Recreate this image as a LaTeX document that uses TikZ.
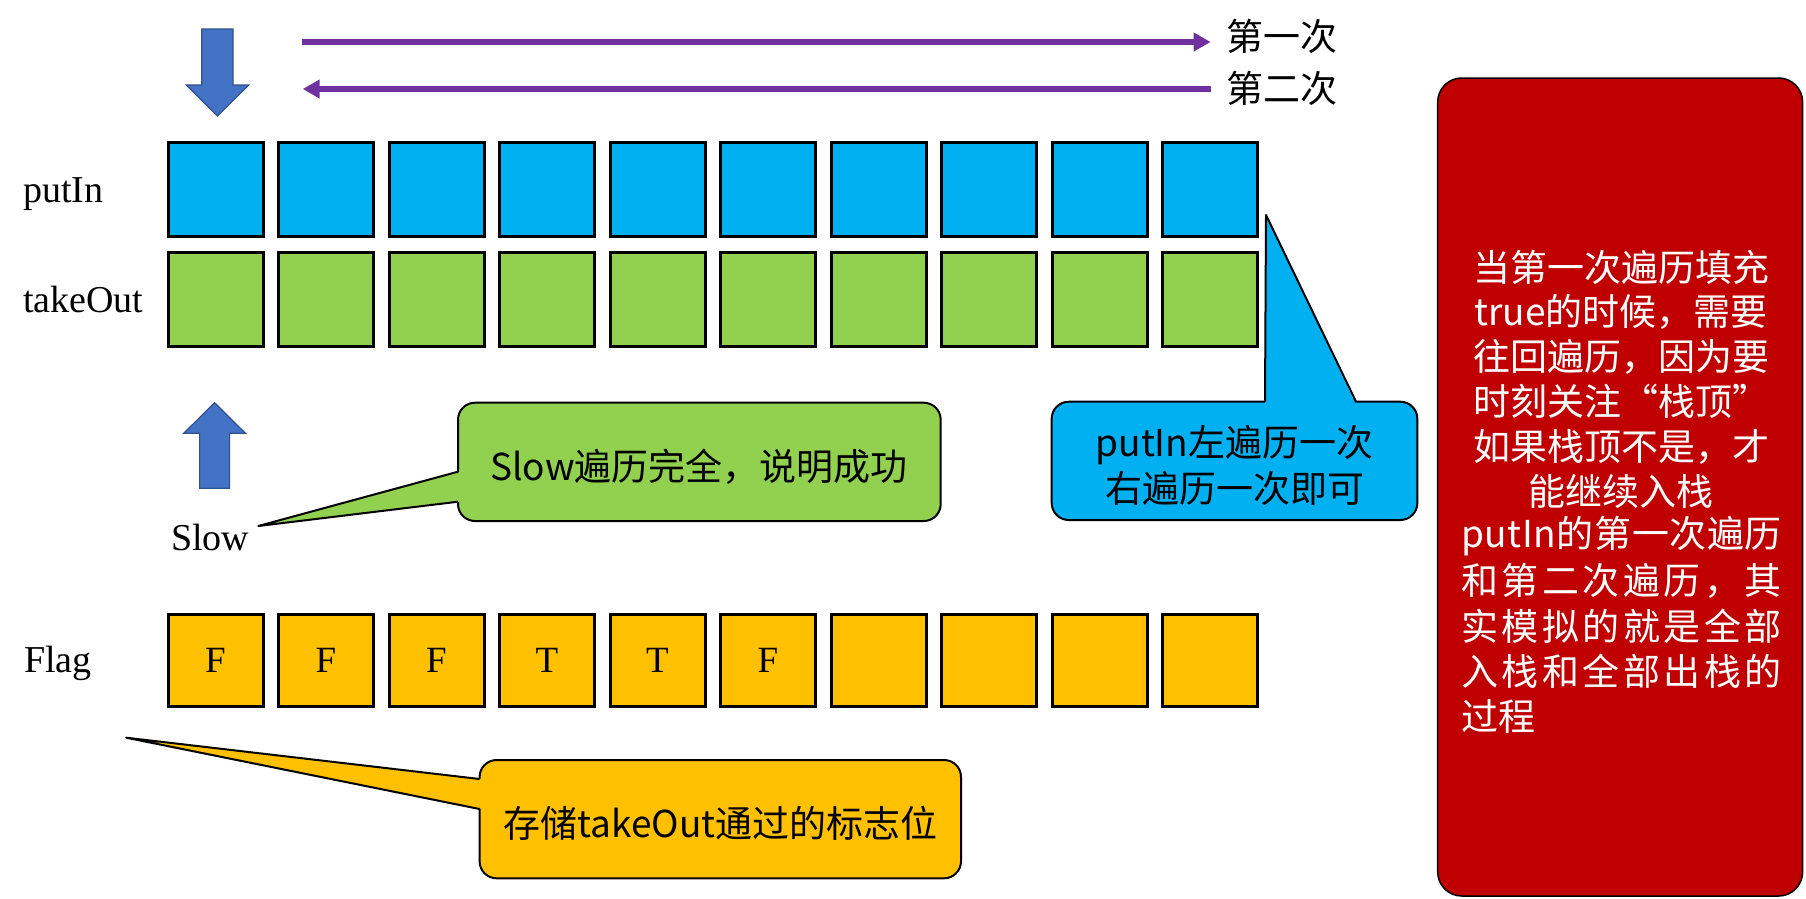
\documentclass[tikz,border=0pt]{standalone}
\usepackage{fontspec}
\setmainfont{Liberation Serif}
\newfontfamily\cjk{Noto Sans CJK SC}
\usetikzlibrary{arrows.meta}
\definecolor{cellblue}{HTML}{00B0F0}
\definecolor{cellgreen}{HTML}{92D050}
\definecolor{cellyellow}{HTML}{FFC000}
\definecolor{boxred}{HTML}{C00000}
\definecolor{arrowpurple}{HTML}{7030A0}
\definecolor{blockblue}{HTML}{4472C4}
\definecolor{blockedge}{HTML}{2F528F}
\tikzset{
  cellbox/.style={draw=black, line width=3pt, minimum width=95pt, minimum height=94.6pt, inner sep=0pt, font=\fontsize{37}{40}\selectfont},
  rowlabel/.style={inner sep=0pt, anchor=base west, font=\fontsize{38}{44}\selectfont},
  cjktext/.style={inner sep=0pt, font=\cjk\fontsize{37}{44}\selectfont},
  notetext/.style={cjktext, text=white},
  calloutbox/.style={draw=black, line width=2pt, rounded corners=17pt, inner sep=0pt},
  pointerline/.style={draw=black, line width=2pt, line join=round},
  blockarrow/.style={fill=blockblue, draw=blockedge, line width=1.2pt},
  passarrow/.style={draw=arrowpurple, line width=6pt, -{Triangle[length=17pt,width=18pt]}},
}
\begin{document}
\begin{tikzpicture}[x=1pt,y=-1pt]
\useasboundingbox (0,0) rectangle (1806,898);

% cell rows
\foreach \i in {0,...,9} {
  \node[cellbox, fill=cellblue] (p\i) at ({215.5+110.5*\i},189.5) {};
  \node[cellbox, fill=cellgreen] (t\i) at ({215.5+110.5*\i},299.5) {};
}
\foreach \i/\v in {0/F,1/F,2/F,3/T,4/T,5/F,6/,7/,8/,9/} {
  \node[cellbox, fill=cellyellow, minimum height=92.5pt] (f\i) at ({215.5+110.5*\i},660.5) {\v};
}

% row labels
\node[rowlabel] (lput) at (23,202.7) {putIn};
\node[rowlabel] (ltake) at (23,312.3) {takeOut};
\node[rowlabel] (lflag) at (24,672.7) {Flag};
\node[rowlabel] (lslow) at (171,550) {Slow};

% block arrows
\draw[blockarrow] (201.8,29) -- (233,29) -- (233,85) -- (248.7,85) -- (217.4,116) -- (186.2,85) -- (201.8,85) -- cycle;
\draw[blockarrow] (199.6,488.3) -- (229.6,488.3) -- (229.6,433.3) -- (245.5,433.3) -- (214.6,402.7) -- (183.7,433.3) -- (199.6,433.3) -- cycle;

% pass arrows
\node[cjktext, anchor=west] (first) at (1226,36.7) {第一次};
\node[cjktext, anchor=west] (second) at (1226,88.8) {第二次};
\coordinate (a1s) at (301.8,42);
\coordinate (a1e) at (1210.6,42);
\draw[passarrow] (a1s) -- (a1e);
\coordinate (a2s) at (1210.6,89);
\coordinate (a2e) at (302.7,89);
\draw[passarrow] (a2s) -- (a2e);

% green callout
\node[calloutbox, fill=cellgreen, minimum width=482.7pt, minimum height=118.3pt] (gbox) at (699.35,461.85) {};
\fill[cellgreen] (461,471.7) -- (258.3,526) -- (461,501.7) -- cycle;
\draw[pointerline] (458,471.7) -- (258.3,526) -- (458,501.7);
\node[cjktext] (gtext) at (699,466.7) {Slow遍历完全，说明成功};

% blue callout
\node[calloutbox, fill=cellblue, minimum width=365.6pt, minimum height=118.3pt] (bbox) at (1234.5,460.85) {};
\fill[cellblue] (1265,404.5) -- (1266,215) -- (1356,404.5) -- cycle;
\draw[pointerline] (1265,401.7) -- (1266,215) -- (1356,401.7);
\node[cjktext] (btext1) at (1234.5,445) {putIn左遍历一次};
\node[cjktext] (btext2) at (1234.5,488.3) {右遍历一次即可};

% yellow callout
\node[calloutbox, fill=cellyellow, minimum width=481.4pt, minimum height=118.3pt] (ybox) at (720.3,819.15) {};
\fill[cellyellow] (482.5,779) -- (126.3,737.7) -- (482.5,809) -- cycle;
\draw[pointerline] (479.6,779) -- (126.3,737.7) -- (479.6,809);
\node[cjktext] (ytext) at (720.7,823.3) {存储takeOut通过的标志位};

% red note
\node[draw=black, line width=1.5pt, fill=boxred, rounded corners=24pt, minimum width=364.9pt, minimum height=818pt, inner sep=0pt] (note) at (1620.15,487) {};
\node[notetext] (r1) at (1621,267) {当第一次遍历填充};
\node[notetext] (r2) at (1621,311.9) {true的时候，需要};
\node[notetext] (r3) at (1621,356.8) {往回遍历，因为要};
\node[notetext] (r4) at (1621,401.7) {时刻关注“栈顶”};
\node[notetext] (r5) at (1621,446.6) {如果栈顶不是，才};
\node[notetext] (r6) at (1621,491.5) {能继续入栈};
\node[notetext] (r7) at (1621.5,536.4) {\makebox[321pt][s]{p\hfill u\hfill t\hfill I\hfill n\hfill 的\hfill 第\hfill 一\hfill 次\hfill 遍\hfill 历}};
\node[notetext] (r8) at (1621.5,581.3) {\makebox[321pt][s]{和\hfill 第\hfill 二\hfill 次\hfill 遍\hfill 历\hfill ，\hfill 其}};
\node[notetext] (r9) at (1621.5,626.2) {\makebox[321pt][s]{实\hfill 模\hfill 拟\hfill 的\hfill 就\hfill 是\hfill 全\hfill 部}};
\node[notetext] (r10) at (1621.5,671.1) {\makebox[321pt][s]{入\hfill 栈\hfill 和\hfill 全\hfill 部\hfill 出\hfill 栈\hfill 的}};
\node[notetext, anchor=west] (r11) at (1461,716) {过程};
\end{tikzpicture}
\end{document}
